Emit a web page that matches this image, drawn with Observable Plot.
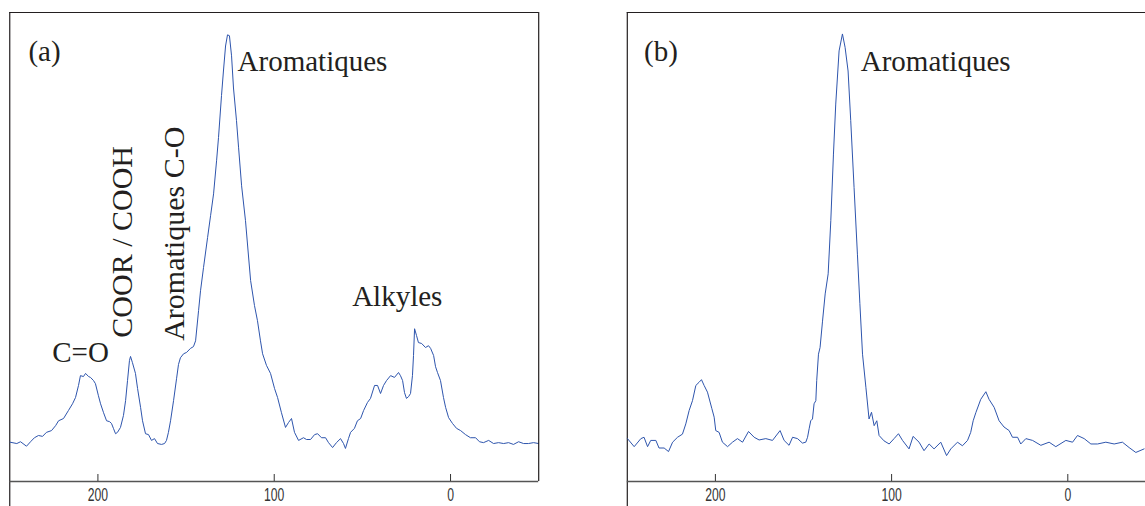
<!DOCTYPE html>
<html><head><meta charset="utf-8">
<script src="https://cdn.jsdelivr.net/npm/d3@7"></script>
<script src="https://cdn.jsdelivr.net/npm/@observablehq/plot@0.6"></script>
<style>
html,body{margin:0;padding:0;background:#fff;overflow:hidden;width:1145px;height:506px}
#wrap{position:relative;width:1145px;height:506px;overflow:hidden;background:#fff}
#a,#b{position:absolute;top:0}
#a{left:0;width:560px}
#b{left:600px;width:580px}
#wrap svg{display:block;max-width:none !important}
</style></head><body><div id="wrap"><div id="a"></div><div id="b"></div></div>
<script>
// ---- spectrum (a) : chemical shift (ppm) and relative intensity (peak = 100)
const ppmA = [249.8,246.0,243.9,240.5,238.2,236.0,233.7,231.4,229.2,226.3,
224.0,222.3,219.5,216.7,214.4,212.7,211.0,209.9,208.2,207.0,
205.3,204.2,202.5,201.4,199.7,198.5,196.8,195.1,193.4,192.3,
191.2,190.0,188.9,187.2,185.5,184.3,183.2,182.1,181.5,180.4,
178.7,177.5,175.8,174.7,173.0,171.3,169.6,167.9,166.2,163.9,
162.2,161.1,160.0,158.8,157.1,155.4,154.3,153.2,151.4,149.7,
147.5,145.8,144.6,142.9,141.8,140.1,137.8,136.1,134.4,132.7,
131.6,129.9,128.8,127.6,126.5,125.4,124.2,123.1,121.4,120.2,
118.5,116.3,113.4,111.2,109.5,107.8,106.6,104.4,102.1,99.8,
98.1,95.9,93.6,91.9,90.2,88.5,86.2,83.4,81.7,79.4,
77.1,75.4,73.2,70.9,69.2,66.9,64.7,62.4,60.7,59.6,
57.9,56.7,54.5,52.8,51.0,49.3,47.1,45.4,43.1,41.4,
39.7,38.0,36.3,34.0,31.8,29.5,28.4,27.2,26.1,25.0,
23.8,22.7,21.6,21.0,20.4,19.3,18.2,16.4,14.2,12.5,
11.3,9.6,8.5,7.4,5.7,4.0,2.8,1.1,-1.1,-3.4,
-5.7,-8.5,-11.3,-14.2,-16.4,-18.7,-21.6,-24.4,-27.2,-30.1,
-32.9,-35.7,-38.6,-41.4,-44.2,-47.1,-49.9];
const intA = [8.8,8.5,8.9,7.9,8.9,9.8,10.3,10.1,11.0,11.4,
12.5,13.6,14.1,15.9,17.4,18.8,21.5,23.7,23.5,24.2,
23.5,23.3,22.6,21.9,19.2,17.4,15.4,13.6,13.4,13.0,
11.9,10.7,11.0,12.1,14.8,18.1,22.6,27.1,28.0,26.6,
24.2,20.8,16.6,13.6,10.7,10.5,9.2,9.6,8.5,8.3,
8.5,9.2,11.0,13.6,18.1,23.0,26.2,27.7,28.6,28.9,
29.8,30.2,31.5,38.3,42.7,47.9,54.6,59.5,64.4,71.8,
77.0,86.4,91.9,97.5,100,99.8,95.3,88.1,80.8,74.7,
66.2,58.4,45.0,39.4,36.0,31.5,28.6,26.0,24.2,20.8,
18.8,15.4,12.1,13.2,14.1,11.0,9.2,9.8,9.4,9.4,
10.5,10.7,9.8,9.8,8.7,7.6,8.7,9.6,8.5,7.4,
9.6,11.0,11.9,13.6,14.1,15.9,17.7,18.6,21.5,21.5,
19.7,21.5,22.6,23.7,23.3,24.4,23.7,22.6,19.9,18.6,
19.0,19.7,23.7,28.2,34.2,32.7,31.1,30.9,30.0,30.4,
29.8,28.2,25.7,24.4,22.6,18.8,16.6,14.3,13.0,11.9,
11.4,10.5,9.8,9.8,8.9,8.7,9.2,8.5,8.7,8.5,
8.7,8.3,8.9,8.5,8.5,8.7,8.5];

// ---- spectrum (b)
const ppmB = [249.9,246.1,242.3,240.5,238.5,236.7,233.8,232.0,229.1,226.6,
224.3,221.5,218.7,216.8,214.9,213.0,211.1,209.3,207.9,206.4,
204.5,202.0,200.7,199.8,197.9,196.0,193.1,190.3,187.5,184.6,
181.2,178.0,175.2,171.4,167.6,163.3,161.0,158.2,156.2,153.4,
150.6,148.7,147.7,146.8,145.9,144.9,144.0,143.0,142.5,141.5,
140.6,139.2,137.7,136.0,134.5,133.0,131.7,129.8,127.9,126.4,
124.7,123.2,121.3,119.4,118.0,116.5,114.6,112.8,111.4,109.9,
108.4,107.1,104.3,101.4,98.6,96.1,93.8,90.1,87.8,84.4,
81.6,78.7,75.9,72.1,68.8,66.4,62.6,59.8,56.9,55.1,
53.7,52.2,49.4,46.5,44.7,41.8,39.0,36.2,33.3,31.4,
28.5,26.7,23.8,20.0,15.3,10.6,6.8,1.1,-2.7,-5.5,
-9.3,-13.1,-16.9,-21.6,-26.3,-31.0,-34.8,-38.6,-43.3];
const intB = [9.6,7.8,9.6,9.9,7.8,9.2,9.2,7.5,7.5,6.7,
8.8,9.9,10.6,12.9,15.9,18.1,21.5,22.2,22.8,21.5,
20.0,16.3,14.4,11.4,11.0,8.8,7.8,8.8,9.6,8.8,
11.2,9.9,9.3,9.6,9.2,11.4,9.2,8.1,9.9,9.6,
8.6,8.8,9.9,11.8,13.6,14.0,17.4,18.1,22.6,28.5,
30.0,35.9,42.0,46.5,58.4,73.3,84.5,96.4,100.2,97.2,
91.9,80.8,65.8,50.9,39.8,28.5,21.1,14.0,15.5,12.5,
13.6,10.3,9.1,8.4,9.6,10.7,9.2,7.3,10.1,8.8,
6.9,8.4,7.3,8.8,5.8,7.3,8.8,8.0,9.2,11.0,
13.6,15.4,18.4,20.1,18.4,16.6,13.6,12.2,11.4,9.9,
9.9,8.4,9.6,9.2,8.1,8.8,7.8,9.2,8.8,10.3,
9.6,8.4,8.4,8.8,8.4,8.8,7.6,6.5,7.3];

// ---- axes
const xDomain = [250, -50];
const xTicks = [200, 100, 0];
const yDomain = [0, 105];
const xLabel = "(ppm)";

// ---- annotations (horizontal)
const labelsA = ["(a)", "Aromatiques", "C=O", "Alkyles"];
const labelPpmA = [239.4, 120.8, 225.9, 55.8];
const labelIntA = [94.2, 91.8, 26.8, 39.4];
// ---- annotations (vertical)
const vLabelsA = ["COOR / COOH", "Aromatiques C-O"];
const vLabelPpmA = [180.9, 151.4];
const vLabelIntA = [32.2, 31.5];

const labelsB = ["(b)", "Aromatiques"];
const labelPpmB = [240.5, 117.5];
const labelIntB = [94.2, 91.8];
const vLabelsB = [];
const vLabelPpmB = [];
const vLabelIntB = [];

const lineColor = "#2e55ad";
const frameColor = "#231f20";
const inkColor = "#231f20";

function panel({ppm, inten, labels, lPpm, lInt, vLabels, vPpm, vInt, width, marginLeft, marginRight, rightEdge}) {
  const data = ppm.map((p, i) => ({ppm: p, v: inten[i]}));
  const marks = [
    Plot.ruleY([yDomain[1]], {stroke: frameColor, strokeWidth: 1.2}),
    Plot.ruleX([xDomain[0]], {stroke: frameColor, strokeWidth: 1.2, insetBottom: -40}),
    Plot.ruleY([yDomain[0]], {stroke: "#555", strokeWidth: 1.7}),
    Plot.axisX({ticks: xTicks, tickSize: 7, dy: -7, tickPadding: 6, color: "#333",
      fontFamily: "Liberation Sans", fontSize: 19, label: null}),
    Plot.text([xLabel], {frameAnchor: "bottom", dy: 25, lineAnchor: "top", text: d => d,
      fontFamily: "Liberation Sans", fontSize: 16, fill: "#333"}),
    Plot.line(data, {x: "ppm", y: "v", stroke: lineColor, strokeWidth: 1}),
    Plot.text(labels, {x: (d, i) => lPpm[i], y: (d, i) => lInt[i], text: d => d,
      textAnchor: "start", lineAnchor: "bottom", fontFamily: "Liberation Serif", fontSize: 29, fill: inkColor}),
    Plot.text(vLabels, {x: (d, i) => vPpm[i], y: (d, i) => vInt[i], text: d => d, rotate: -90,
      textAnchor: "start", lineAnchor: "bottom", fontFamily: "Liberation Serif", fontSize: 30, fill: inkColor})
  ];
  if (rightEdge) marks.push(Plot.ruleX([xDomain[1]], {stroke: frameColor, strokeWidth: 1.2}));
  return Plot.plot({
    width, height: 520,
    marginLeft, marginRight, marginTop: 12, marginBottom: 39,
    x: {domain: xDomain},
    y: {domain: yDomain, axis: null},
    style: {background: "transparent", overflow: "visible", fontFamily: "Liberation Serif", maxWidth: "none"},
    marks
  });
}

const svgA = panel({ppm: ppmA, inten: intA, labels: labelsA, lPpm: labelPpmA, lInt: labelIntA,
  vLabels: vLabelsA, vPpm: vLabelPpmA, vInt: vLabelIntA, width: 560, marginLeft: 9.25, marginRight: 21.8, rightEdge: true});
const svgB = panel({ppm: ppmB, inten: intB, labels: labelsB, lPpm: labelPpmB, lInt: labelIntB,
  vLabels: vLabelsB, vPpm: vLabelPpmB, vInt: vLabelIntB, width: 580, marginLeft: 26.8, marginRight: 24.6, rightEdge: false});
document.getElementById("a").append(svgA);
document.getElementById("b").append(svgB);

// condensed look for the sans-serif axis text
for (const svg of [svgA, svgB]) {
  d3.select(svg).selectAll("text").each(function() {
    const t = this.textContent;
    if (/^[0-9]+$/.test(t) || t === xLabel) {
      const w = this.getComputedTextLength();
      this.setAttribute("textLength", (w * 0.64).toFixed(1));
      this.setAttribute("lengthAdjust", "spacingAndGlyphs");
    }
  });
}
</script></body></html>
